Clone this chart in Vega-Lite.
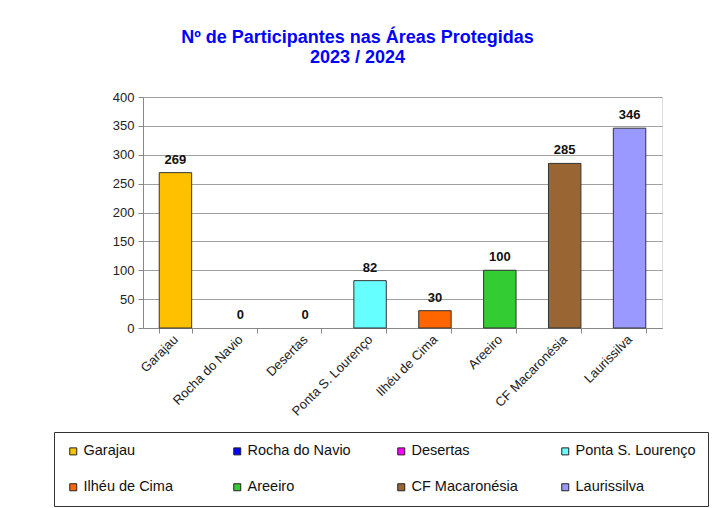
{
  "$schema": "https://vega.github.io/schema/vega-lite/v6.json",
  "width": 519,
  "height": 231,
  "autosize": {"type": "none"},
  "padding": {"left": 143, "top": 97, "right": 62, "bottom": 180},
  "background": "white",
  "title": {
    "text": ["Nº de Participantes nas Áreas Protegidas", "2023 / 2024"],
    "font": "Liberation Sans",
    "fontSize": 18,
    "fontWeight": "bold",
    "color": "#0000FF",
    "anchor": "middle",
    "lineHeight": 20,
    "offset": 24,
    "dx": -45
  },
  "data": {
    "values": [
      {"area": "Garajau", "n": 269},
      {"area": "Rocha do Navio", "n": 0},
      {"area": "Desertas", "n": 0},
      {"area": "Ponta S. Lourenço", "n": 82},
      {"area": "Ilhéu de Cima", "n": 30},
      {"area": "Areeiro", "n": 100},
      {"area": "CF Macaronésia", "n": 285},
      {"area": "Laurissilva", "n": 346}
    ]
  },
  "encoding": {
    "x": {
      "field": "area",
      "type": "nominal",
      "sort": null,
      "title": null,
      "scale": {"paddingInner": 0.5, "paddingOuter": 0.25},
      "axis": {
        "labelAngle": -45,
        "labelAlign": "right",
        "labelBaseline": "middle",
        "labelFont": "Liberation Sans",
        "labelFontSize": 13,
        "labelColor": "#222",
        "labelPadding": 4,
        "tickBand": "extent",
        "tickColor": "#888",
        "tickSize": 5,
        "domainColor": "#888",
        "grid": false
      }
    },
    "y": {
      "field": "n",
      "type": "quantitative",
      "title": null,
      "scale": {"domain": [0, 400], "nice": false},
      "axis": {
        "values": [0, 50, 100, 150, 200, 250, 300, 350, 400],
        "labelFont": "Liberation Sans",
        "labelFontSize": 13,
        "labelColor": "#222",
        "labelPadding": 4,
        "tickColor": "#888",
        "tickSize": 5,
        "domainColor": "#888",
        "gridColor": "#a0a0a0",
        "grid": true
      }
    }
  },
  "layer": [
    {
      "mark": {"type": "bar", "stroke": "#333", "strokeWidth": 1},
      "encoding": {
        "strokeOpacity": {"condition": {"test": "datum.n > 0", "value": 1}, "value": 0},
        "color": {
          "field": "area",
          "type": "nominal",
          "scale": {
            "domain": ["Garajau", "Rocha do Navio", "Desertas", "Ponta S. Lourenço", "Ilhéu de Cima", "Areeiro", "CF Macaronésia", "Laurissilva"],
            "range": ["#FFC000", "#0000FF", "#FF00FF", "#66FFFF", "#FF6600", "#33CC33", "#996633", "#9999FF"]
          },
          "legend": {
            "title": null,
            "orient": "none",
            "legendX": -89,
            "legendY": 335,
            "direction": "horizontal",
            "columns": 4,
            "gridAlign": "all",
            "columnPadding": 26,
            "rowPadding": 21,
            "padding": 12,
            "strokeColor": "#333",
            "fillColor": "white",
            "symbolType": "square",
            "symbolSize": 49,
            "symbolStrokeColor": "#222",
            "symbolStrokeWidth": 1,
            "symbolOpacity": 1,
            "labelOffset": 3,
            "labelFont": "Liberation Sans",
            "labelFontSize": 14.5,
            "labelColor": "#111",
            "labelLimit": 300
          }
        }
      }
    },
    {
      "mark": {"type": "text", "baseline": "alphabetic", "dy": -9, "font": "Liberation Sans", "fontSize": 13, "fontWeight": "bold", "color": "#111"},
      "encoding": {
        "text": {"field": "n", "type": "quantitative"}
      }
    }
  ]
}
